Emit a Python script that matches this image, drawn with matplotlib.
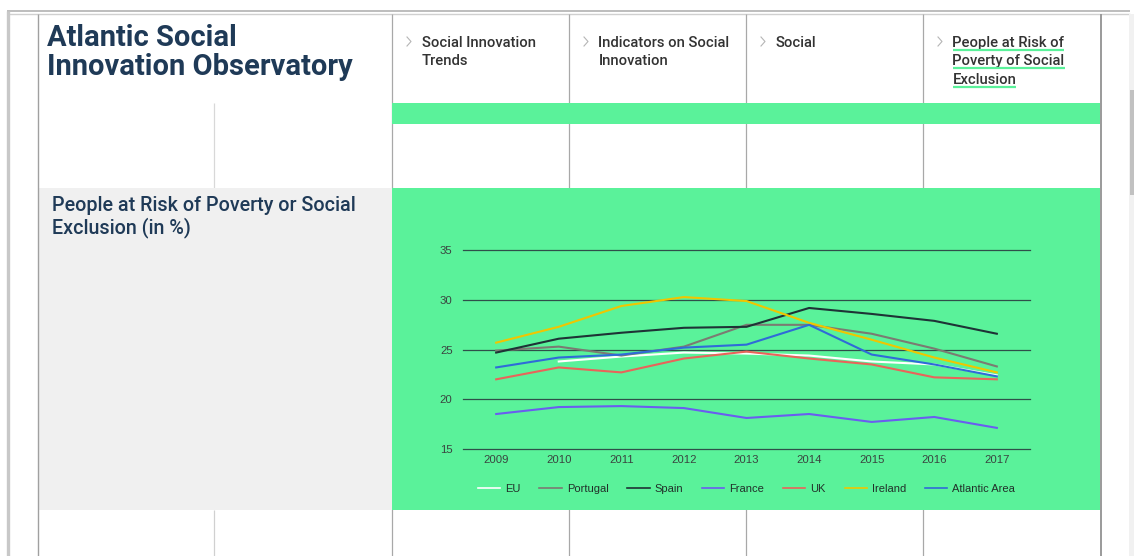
"""
Atlantic Social Innovation Observatory
People at Risk of Poverty or Social Exclusion (in %), 2009-2017
"""
import numpy as np
import matplotlib.pyplot as plt
from matplotlib.patches import Rectangle

# Datos del gráfico
years = [2009, 2010, 2011, 2012, 2013, 2014, 2015, 2016, 2017]
eu = [np.nan, 23.8, 24.3, 24.7, 24.6, 24.4, 23.8, 23.5, 22.4]
portugal = [24.9, 25.3, 24.4, 25.3, 27.5, 27.5, 26.6, 25.1, 23.3]
spain = [24.7, 26.1, 26.7, 27.2, 27.3, 29.2, 28.6, 27.9, 26.6]
france = [18.5, 19.2, 19.3, 19.1, 18.1, 18.5, 17.7, 18.2, 17.1]
uk = [22.0, 23.2, 22.7, 24.1, 24.8, 24.1, 23.5, 22.2, 22.0]
ireland = [25.7, 27.3, 29.4, 30.3, 29.9, 27.7, 26.0, 24.2, 22.7]
atlantic = [23.2, 24.2, 24.5, 25.2, 25.5, 27.5, 24.5, 23.5, 22.3]

series_names = ["EU", "Portugal", "Spain", "France", "UK", "Ireland", "Atlantic Area"]
y_ticks = [15, 20, 25, 30, 35]

site_title = ["Atlantic Social", "Innovation Observatory"]
chart_title = ["People at Risk of Poverty or Social", "Exclusion (in %)"]
nav_items = [["Social Innovation", "Trends"],
             ["Indicators on Social", "Innovation"],
             ["Social"],
             ["People at Risk of", "Poverty of Social", "Exclusion"]]

# Estilos
series_colors = ["#ffffff", "#7b7b72", "#1e3336", "#6a5df0", "#e9645a", "#f0c600", "#2f6bd8"]
GREEN = "#5af29a"
NAVY = "#1f3a57"
W, H = 1134, 556

fig = plt.figure(figsize=(W / 100, H / 100), dpi=100)
fig.patch.set_facecolor("white")

# Capa de fondo en coordenadas de píxel
bg = fig.add_axes([0, 0, 1, 1])
bg.set_xlim(0, W)
bg.set_ylim(H, 0)
bg.axis("off")


def vline(x, y0, y1, color="#a8a8a8", lw=0.9, z=1):
    bg.plot([x, x], [y0, y1], color=color, lw=lw, solid_capstyle="butt", zorder=z)


def hline(y, x0, x1, color="#bbbbbb", lw=1.2, z=1):
    bg.plot([x0, x1], [y, y], color=color, lw=lw, solid_capstyle="butt", zorder=z)


# Bordes de la página
hline(11, 7, 1130, "#bdbdbd", 1.4)
hline(14, 7, 1130, "#d0d0d0", 1.0)
vline(7.5, 11, H, "#c8c8c8", 2.4)

# Columnas
for x in [392, 569, 746, 923]:
    vline(x, 14, H)
vline(214, 103, 188, "#d8d8d8")
vline(214, 510, H, "#d0d0d0")

# Bloques de color
bg.add_patch(Rectangle((38, 188), 354, 322, fc="#f0f0f0", ec="none", zorder=2))
bg.add_patch(Rectangle((392, 103), 708, 21, fc=GREEN, ec="none", zorder=2))
bg.add_patch(Rectangle((392, 188), 708, 322, fc=GREEN, ec="none", zorder=2))
vline(38, 14, H, "#a0a0a0", 1.0, 3)
vline(1100.5, 14, H, "#9a9a9a", 1.4, 3)

# Barra de desplazamiento
bg.add_patch(Rectangle((1129, 14), 5, H - 14, fc="#f1f1f1", ec="none", zorder=2))
bg.add_patch(Rectangle((1130, 90), 4, 105, fc="#c1c1c1", ec="none", zorder=3))

# Títulos
for i, line in enumerate(site_title):
    bg.text(47, [45.7, 75][i], line, family="Roboto", weight="bold",
            fontsize=21, color=NAVY, va="baseline", zorder=4)
for i, line in enumerate(chart_title):
    bg.text(51.5, [210.7, 233.3][i], line, family="Roboto", weight="medium",
            fontsize=14.2, color=NAVY, va="baseline", zorder=4)

# Navegación
nav_texts = []
for col, lines in zip([392, 569, 746, 923], nav_items):
    bg.plot([col + 15, col + 19, col + 15], [37, 41.5, 46], color="#b5b5b5",
            lw=0.8, zorder=4)
    row = []
    for j, line in enumerate(lines):
        t = bg.text(col + 29.5, 46.7 + j * 18.7, line, family="Roboto",
                    weight="medium", fontsize=10.6, color="#333333",
                    va="baseline", zorder=4)
        row.append(t)
    nav_texts.append(row)

# Gráfico de líneas
ax = fig.add_axes([463 / W, (H - 448.7) / H, (1030 - 463) / W, (448.7 - 250.5) / H],
                  zorder=5)
ax.patch.set_alpha(0)
all_series = [eu, portugal, spain, france, uk, ireland, atlantic]
for name, vals, c in zip(series_names, all_series, series_colors):
    ax.plot(years, vals, color=c, lw=1.5, label=name)

ax.set_xlim(years[0] - 0.53, years[-1] + 0.53)
ax.set_ylim(15, 35)
ax.set_yticks(y_ticks)
ax.set_xticks(years)
ax.yaxis.grid(True, color="#2f4f4a", lw=0.9)
for gl in ax.get_ygridlines():
    gl.set_clip_on(False)
ax.set_axisbelow(True)
for s in ax.spines.values():
    s.set_visible(False)
ax.tick_params(axis="both", length=0, labelsize=8.2, labelcolor="#3a4440")
ax.tick_params(axis="y", pad=7.5)
ax.tick_params(axis="x", pad=4.5)
for lab in ax.get_xticklabels() + ax.get_yticklabels():
    lab.set_family("Liberation Sans")

leg = ax.legend(loc="center", bbox_to_anchor=(0.5, -0.205), ncol=7, frameon=False,
                handlelength=2.0, handletextpad=0.45, columnspacing=1.7,
                prop={"family": "Liberation Sans", "size": 8})
for t in leg.get_texts():
    t.set_color("#22302a")
for h in leg.legend_handles:
    h.set_linewidth(1.2)

# Subrayado del elemento activo
fig.canvas.draw()
for j, t in enumerate(nav_texts[3]):
    bb = t.get_window_extent()
    hline(49.5 + j * 18.8, bb.x0, bb.x1, GREEN, 1.6, 4)

fig.savefig("out.png", dpi=100)
